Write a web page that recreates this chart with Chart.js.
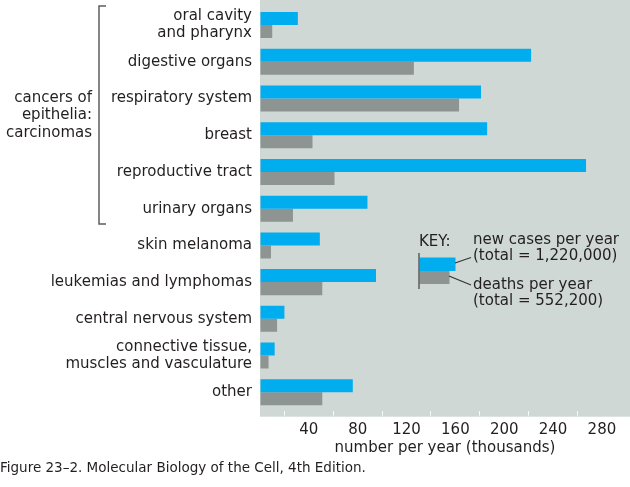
<!DOCTYPE html>
<html><head><meta charset="utf-8">
<script src="https://cdn.jsdelivr.net/npm/chart.js@4.4.1/dist/chart.umd.min.js"></script>
<style>html,body{margin:0;padding:0;background:#fff;}#wrap{width:630px;height:487px;position:relative;}</style>
</head><body><div id="wrap"><canvas id="c" width="630" height="487"></canvas></div>
<script>
// ---- data ----
const categories = [["oral cavity","and pharynx"],"digestive organs","respiratory system","breast","reproductive tract","urinary organs","skin melanoma","leukemias and lymphomas","central nervous system",["connective tissue,","muscles and vasculature"],"other"];
const newCases = [31,222,181,186,267,88,49,95,20,12,76];
const deaths   = [10,126,163,43,61,27,9,51,14,7,51];
const xTickLabels = [40,80,120,160,200,240,280];
const seriesNames = ["new cases per year","deaths per year"];
const seriesTotals = ["(total = 1,220,000)","(total = 552,200)"];
const keyTitle = "KEY:";
const groupLabel = ["cancers of","epithelia:","carcinomas"];
const axisTitle = "number per year (thousands)";
const caption = "Figure 23\u20132. Molecular Biology of the Cell, 4th Edition.";

// ---- style ----
const FONT = "'DejaVu Sans', sans-serif";
const TXT = '#231f20';
const BLUE = '#00adef';
const GREY = '#8e9491';
const BG = '#cfd8d4';

const decor = {
  id:'decor',
  beforeDraw(chart){
    const {ctx, chartArea:a} = chart;
    ctx.save();
    ctx.fillStyle = BG;
    ctx.fillRect(a.left, 0, chart.width - a.left, a.bottom + 6);
    ctx.restore();
  },
  afterDraw(chart){
    const ctx = chart.ctx;
    ctx.save();
    // bracket
    ctx.strokeStyle = '#5e5e5e'; ctx.lineWidth = 1.5;
    ctx.beginPath();
    ctx.moveTo(106, 6); ctx.lineTo(99, 6); ctx.lineTo(99, 224); ctx.lineTo(106, 224);
    ctx.stroke();
    ctx.fillStyle = TXT; ctx.font = "15px " + FONT;
    ctx.textAlign = 'right'; ctx.textBaseline = 'middle';
    const gy = [98, 115.5, 133];
    groupLabel.forEach((t,i)=>ctx.fillText(t, 92, gy[i]));
    // key
    ctx.textAlign = 'left';
    ctx.fillText(keyTitle, 419, 242);
    ctx.fillText(seriesNames[0], 473, 240);
    ctx.fillText(seriesTotals[0], 473, 256.5);
    ctx.fillText(seriesNames[1], 473, 285);
    ctx.fillText(seriesTotals[1], 473, 301);
    ctx.fillStyle = BLUE; ctx.fillRect(419.5, 257.5, 36, 13.5);
    ctx.fillStyle = GREY; ctx.fillRect(419.5, 271, 30, 13);
    ctx.strokeStyle = '#5e5e5e'; ctx.lineWidth = 1.5;
    ctx.beginPath(); ctx.moveTo(419, 253); ctx.lineTo(419, 289); ctx.stroke();
    ctx.lineWidth = 1.2; ctx.strokeStyle = '#333';
    ctx.beginPath(); ctx.moveTo(455, 263); ctx.lineTo(471, 257.5); ctx.stroke();
    ctx.beginPath(); ctx.moveTo(449, 276); ctx.lineTo(471, 285); ctx.stroke();
    ctx.restore();
  }
};

new Chart(document.getElementById('c'), {
  type:'bar',
  data:{
    labels: categories,
    datasets:[
      {label:seriesNames[0], data:newCases, backgroundColor:BLUE, borderWidth:0, barPercentage:1, categoryPercentage:0.708},
      {label:seriesNames[1], data:deaths, backgroundColor:GREY, borderWidth:0, barPercentage:1, categoryPercentage:0.708}
    ]
  },
  options:{
    indexAxis:'y', responsive:false, animation:false, devicePixelRatio:1,
    layout:{padding:{top:6.6,left:0,right:0,bottom:0}},
    plugins:{
      legend:{display:false}, tooltip:{enabled:false},
      title:{display:true, position:'bottom', align:'start', text:caption, color:TXT,
        font:{family:FONT, size:13.5, weight:'normal', lineHeight:1.2}, padding:{top:2,bottom:10}}
    },
    scales:{
      x:{type:'linear', min:0, max:303,
        afterFit(s){ s.height = 48.1; s.paddingLeft = 0; s.paddingRight = 0; },
        border:{display:false},
        grid:{drawOnChartArea:false, drawTicks:true, tickLength:5, tickWidth:1,
          tickColor:(c)=> (c.tick && c.tick.value % 40 === 20 && c.tick.value <= 260) ? 'rgba(255,255,255,0.85)' : 'rgba(0,0,0,0)'},
        ticks:{stepSize:20, autoSkip:false, maxRotation:0, padding:5, color:TXT,
          font:{family:FONT, size:15},
          callback:(v)=> xTickLabels.includes(v) ? String(v) : ''},
        title:{display:true, text:axisTitle, color:TXT, font:{family:FONT, size:15, lineHeight:1.2}, padding:{top:0,bottom:2}}
      },
      y:{type:'category', offset:true,
        afterFit(s){ s.width = 260; s.paddingTop = 0; s.paddingBottom = 0; },
        border:{display:false},
        grid:{display:false, drawTicks:false},
        ticks:{padding:8, autoSkip:false, color:TXT, font:{family:FONT, size:15, lineHeight:1.15}}
      }
    }
  },
  plugins:[decor]
});
</script></body></html>
